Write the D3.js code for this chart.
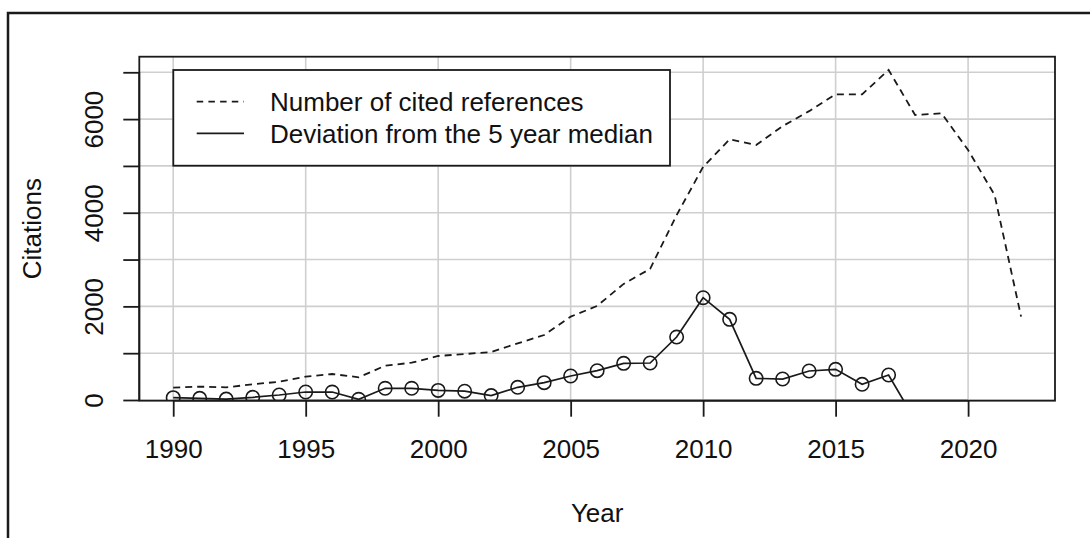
<!DOCTYPE html>
<html>
<head>
<meta charset="utf-8">
<script src="https://cdn.jsdelivr.net/npm/d3@7/dist/d3.min.js"></script>
<style>
  html, body { margin: 0; padding: 0; background: #fff; }
  svg { display: block; }
  text { font-family: "Liberation Sans", Arial, Helvetica, sans-serif; fill: #111; }
</style>
</head>
<body>
<svg id="chart" width="1090" height="538"></svg>
<script>
// Yearly counts of cited references (dashed line)
const refYears = d3.range(1990, 2023);
const refCounts = [265, 285, 270, 335, 390, 500, 555, 485, 733, 797,
                   940, 982, 1025, 1210, 1388, 1780, 2010, 2480, 2800, 3950,
                   4980, 5568, 5446, 5850, 6170, 6529, 6529, 7050, 6087, 6123,
                   5340, 4379, 1780];

// Deviation of each year from the 5 year median (solid line with circles)
const devYears = d3.range(1990, 2019);
const devValues = [50, 35, 20, 57, 107, 171, 170, 15, 250, 250,
                   205, 188, 95, 271, 370, 513, 626, 783, 790, 1345,
                   2185, 1723, 463, 448, 619, 655, 335, 534, -430];

// Axis ticks and labels
const xTicks = [1990, 1995, 2000, 2005, 2010, 2015, 2020];
const yTicks = [0, 1000, 2000, 3000, 4000, 5000, 6000, 7000];
const yLabelled = [0, 2000, 4000, 6000];

const legendLabels = ["Number of cited references", "Deviation from the 5 year median"];

const svg = d3.select("#chart");
const ink = "#1a1a1a";
const gridCol = "#cfcfcf";
const fontPx = 26;

// Plot region
const pLeft = 139.3, pRight = 1055, pTop = 56.7, pBottom = 400.7;

const x = d3.scaleLinear().domain([1988.72, 2023.28]).range([pLeft, pRight]);
const y = d3.scaleLinear().domain([-15, 7333]).range([pBottom, pTop]);

// Outer figure frame
svg.append("rect")
  .attr("x", 8).attr("y", 13).attr("width", 1200).attr("height", 700)
  .attr("fill", "none").attr("stroke", ink).attr("stroke-width", 2.5);

svg.append("clipPath").attr("id", "plotClip")
  .append("rect").attr("x", pLeft).attr("y", pTop)
  .attr("width", pRight - pLeft).attr("height", pBottom - pTop);

// Grid
const grid = svg.append("g").attr("stroke", gridCol).attr("stroke-width", 1.6);
grid.selectAll("line.v").data(xTicks).join("line")
  .attr("class", "v")
  .attr("x1", d => x(d)).attr("x2", d => x(d))
  .attr("y1", pTop).attr("y2", pBottom);
grid.selectAll("line.h").data(yTicks).join("line")
  .attr("class", "h")
  .attr("x1", pLeft).attr("x2", pRight)
  .attr("y1", d => y(d)).attr("y2", d => y(d));

// Data lines
const plot = svg.append("g").attr("clip-path", "url(#plotClip)");

const refLine = d3.line().x((d, i) => x(refYears[i])).y(d => y(d));
plot.append("path")
  .datum(refCounts)
  .attr("d", refLine)
  .attr("fill", "none").attr("stroke", ink).attr("stroke-width", 1.8)
  .attr("stroke-dasharray", "7,5");

const devLine = d3.line().x((d, i) => x(devYears[i])).y(d => y(d));
plot.append("path")
  .datum(devValues)
  .attr("d", devLine)
  .attr("fill", "none").attr("stroke", ink).attr("stroke-width", 1.7);

plot.selectAll("circle.dev").data(devValues).join("circle")
  .attr("class", "dev")
  .attr("cx", (d, i) => x(devYears[i])).attr("cy", d => y(d))
  .attr("r", 6.7)
  .attr("fill", "none").attr("stroke", ink).attr("stroke-width", 1.6);

// Legend (drawn over the grid with a white fill)
const lg = svg.append("g");
lg.append("rect")
  .attr("x", 173.3).attr("y", 70).attr("width", 670 - 173.3).attr("height", 165.7 - 70)
  .attr("fill", "#fff").attr("stroke", ink).attr("stroke-width", 1.8);
const legendRowsY = [101.7, 133.3];
lg.selectAll("line.key").data(legendLabels).join("line")
  .attr("class", "key")
  .attr("x1", 196.7).attr("x2", 244)
  .attr("y1", (d, i) => legendRowsY[i]).attr("y2", (d, i) => legendRowsY[i])
  .attr("stroke", ink).attr("stroke-width", 1.8)
  .attr("stroke-dasharray", (d, i) => i === 0 ? "6.5,5.2" : null);
lg.selectAll("text").data(legendLabels).join("text")
  .attr("x", 270).attr("y", (d, i) => legendRowsY[i] + 9.5)
  .attr("font-size", fontPx)
  .text(d => d);

// Plot box
svg.append("rect")
  .attr("x", pLeft).attr("y", pTop).attr("width", pRight - pLeft).attr("height", pBottom - pTop)
  .attr("fill", "none").attr("stroke", ink).attr("stroke-width", 1.8);

// X axis
const xAxis = d3.axisBottom(x).tickValues(xTicks).tickSize(16).tickPadding(0)
  .tickFormat(d3.format("d"));
const gx = svg.append("g").attr("transform", `translate(0,${pBottom})`).call(xAxis);
gx.select(".domain").attr("stroke", ink).attr("stroke-width", 1.8)
  .attr("d", `M${x(xTicks[0])},0H${x(xTicks[xTicks.length - 1])}`);
gx.selectAll(".tick line").attr("stroke", ink).attr("stroke-width", 1.8);
gx.selectAll(".tick text")
  .attr("font-size", fontPx).attr("font-family", null)
  .attr("dy", null).attr("y", 57.6).attr("fill", "#111");

// Y axis
const yAxis = d3.axisLeft(y).tickValues(yTicks).tickSize(16).tickPadding(0)
  .tickFormat(d => yLabelled.includes(d) ? String(d) : "");
const gy = svg.append("g").attr("transform", `translate(${pLeft},0)`).call(yAxis);
gy.select(".domain").attr("stroke", ink).attr("stroke-width", 1.8)
  .attr("d", `M0,${y(yTicks[0])}V${y(yTicks[yTicks.length - 1])}`);
gy.selectAll(".tick line").attr("stroke", ink).attr("stroke-width", 1.8);
gy.selectAll(".tick text")
  .attr("font-size", fontPx).attr("font-family", null)
  .attr("x", null).attr("dy", null).attr("fill", "#111")
  .attr("text-anchor", "middle")
  .attr("transform", "translate(-36,0) rotate(-90)");

// Axis titles
svg.append("text")
  .attr("x", (pLeft + pRight) / 2).attr("y", 522)
  .attr("text-anchor", "middle").attr("font-size", fontPx)
  .text("Year");
svg.append("text")
  .attr("transform", `translate(41,${(pTop + pBottom) / 2}) rotate(-90)`)
  .attr("text-anchor", "middle").attr("font-size", fontPx)
  .text("Citations");
</script>
</body>
</html>
